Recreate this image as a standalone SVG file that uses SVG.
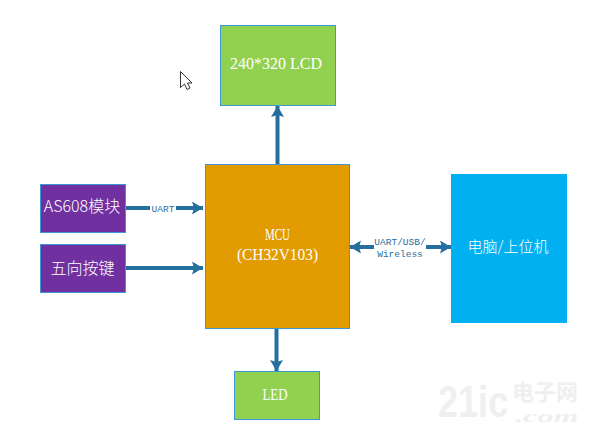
<svg xmlns="http://www.w3.org/2000/svg" width="592" height="429" viewBox="0 0 592 429">
<style>
.box{stroke:#3f96d6;stroke-width:1}
.t{font-family:"Liberation Serif","Noto Sans CJK SC",serif;fill:#fff;text-anchor:middle;font-size:16px}
.c{font-family:"Noto Sans CJK SC","Liberation Serif",sans-serif;font-weight:300;fill:#fff;text-anchor:middle;font-size:16px}
.l{font-family:"Liberation Mono",monospace;fill:#2a6e9e;text-anchor:middle;font-size:9.500px}
.ln{stroke:#256f9f;stroke-width:4;fill:none;marker-end:url(#a)}
.wm{fill:#efefef;text-anchor:start;font-weight:bold}
</style>
<defs>
<marker id="a" markerUnits="userSpaceOnUse" markerWidth="12" markerHeight="14" refX="11" refY="6.500" orient="auto"><path d="M0 0L11 6.500L0 13L2 6.500Z" fill="#256f9f"/></marker>
</defs>
<rect width="592" height="429" fill="#fff"/>
<g id="watermark">
<text class="wm" transform="translate(438 417) scale(.82 1)" font-family="Liberation Sans,sans-serif" font-size="44">21ic</text>
<text class="wm" x="512" y="400" font-family="Noto Sans CJK SC,sans-serif" font-size="22">电子网</text>
<text class="wm" transform="translate(515 422) scale(1.9 1)" font-family="Liberation Serif,serif" font-size="17" font-style="italic">.com</text>
</g>
<g id="connectors">
<path class="ln" d="M277.500 164V106"/>
<path class="ln" d="M126 208H203"/>
<path class="ln" d="M126 268H203"/>
<path class="ln" d="M276.500 328V371"/>
<path class="ln" d="M400 247L350 247"/>
<path class="ln" d="M400 247L451 247"/>
</g>
<g id="lcd"><rect class="box" x="220.500" y="25.500" width="115" height="80" fill="#92d050"/><text class="t" x="276" y="69" textLength="92" lengthAdjust="spacingAndGlyphs">240*320 LCD</text></g>
<g id="mcu"><rect class="box" x="205.500" y="164.500" width="144" height="164" fill="#e29b00"/><text class="t" x="277.500" y="240" textLength="25" lengthAdjust="spacingAndGlyphs">MCU</text><text class="t" x="277.500" y="260" textLength="81" lengthAdjust="spacingAndGlyphs">(CH32V103)</text></g>
<g id="as608"><rect class="box" x="40.500" y="184.500" width="85" height="48" fill="#7030a0"/><text class="c" x="82" y="212">AS608模块</text></g>
<g id="keys"><rect class="box" x="40.500" y="244.500" width="85" height="48" fill="#7030a0"/><text class="c" x="82.500" y="274">五向按键</text></g>
<g id="led"><rect class="box" x="234.500" y="371.500" width="85" height="48" fill="#92d050"/><text class="t" x="275" y="400" textLength="25" lengthAdjust="spacingAndGlyphs">LED</text></g>
<g id="pc"><rect x="451" y="174" width="116" height="149" fill="#00b0f0"/><text class="c" x="508" y="252" style="font-size:15px">电脑/上位机</text></g>
<g id="labels">
<rect x="150" y="203" width="26" height="10" fill="#fff"/>
<text class="l" x="163" y="212">UART</text>
<rect x="374" y="237" width="52" height="22" fill="#fff"/>
<text class="l" x="400" y="245">UART/USB/</text>
<text class="l" x="400" y="257">Wireless</text>
</g>
<path id="cursor" d="M180.500 71.500V87.500L184.500 84L187 89.500L190 88L187.500 83H192Z" fill="#fff" stroke="#333" stroke-width="1"/>
</svg>
